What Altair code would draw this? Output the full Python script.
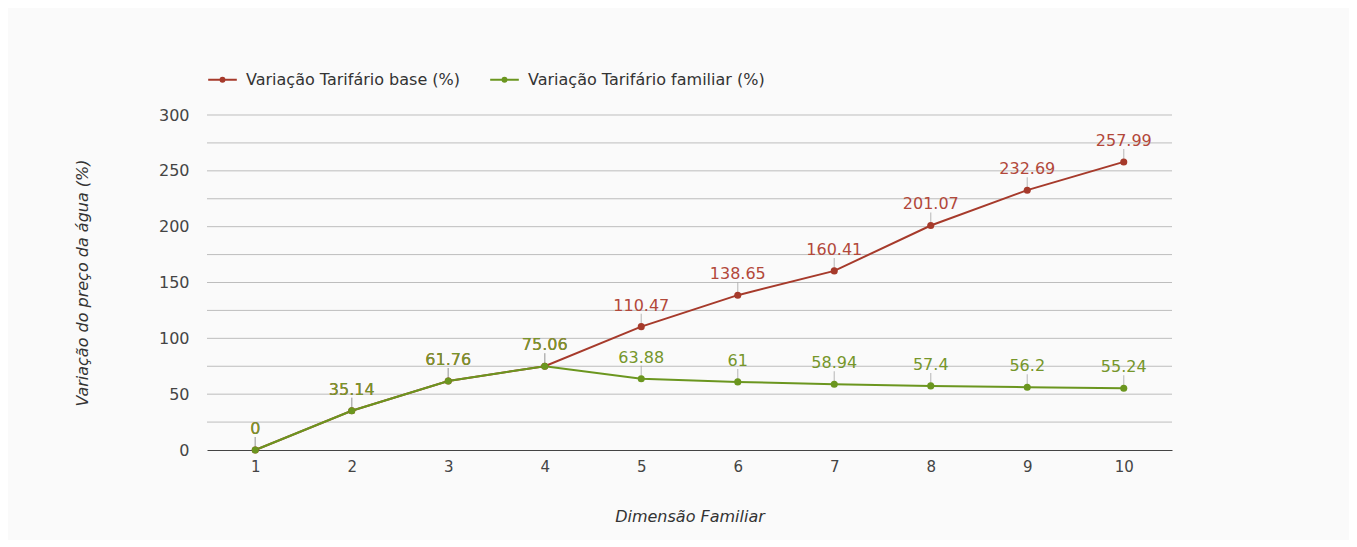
import altair as alt
import pandas as pd

dims = [1, 2, 3, 4, 5, 6, 7, 8, 9, 10]
base_vals = [0, 35.14, 61.76, 75.06, 110.47, 138.65, 160.41, 201.07, 232.69, 257.99]
fam_vals = [0, 35.14, 61.76, 75.06, 63.88, 61, 58.94, 57.4, 56.2, 55.24]
s_base = "Variação Tarifário base (%)"
s_fam = "Variação Tarifário familiar (%)"
grid_vals = [25, 50, 75, 100, 125, 150, 175, 200, 225, 250, 275, 300]

rows = []
for d, v in zip(dims, base_vals):
    rows.append({"dim": d, "val": v, "serie": s_base, "lbl": f"{v:g}"})
for d, v in zip(dims, fam_vals):
    rows.append({"dim": d, "val": v, "serie": s_fam, "lbl": f"{v:g}"})
df = pd.DataFrame(rows)
grid_df = pd.DataFrame({"val": grid_vals})

c_base = "#a63a2b"
c_fam = "#6b961f"
t_base = "#b2483a"
t_fam = "#76962a"
FONT = "DejaVu Sans"

x_enc = alt.X("dim:O", scale=alt.Scale(type="point", padding=0.5),
              axis=alt.Axis(title="Dimensão Familiar", labelAngle=0, ticks=False,
                            domain=True, domainColor="#444", labelFont=FONT,
                            labelFontSize=15, labelColor="#444", labelPadding=9,
                            titleFont=FONT, titleFontSize=16, titleFontStyle="italic",
                            titleFontWeight="normal", titleColor="#333", titlePadding=34))
y_scale = alt.Scale(domain=[0, 300], nice=False)
y_enc = alt.Y("val:Q", scale=y_scale,
              axis=alt.Axis(title="Variação do preço da água (%)",
                            values=list(range(0, 301, 50)),
                            ticks=False, domain=False, grid=False,
                            labelFont=FONT, labelFontSize=16, labelColor="#444", labelPadding=18,
                            titleFont=FONT, titleFontSize=16, titleFontStyle="italic",
                            titleFontWeight="normal", titleColor="#333", titlePadding=68))

color = alt.Color("serie:N", scale=alt.Scale(domain=[s_base, s_fam], range=[c_base, c_fam]),
                  legend=alt.Legend(title=None, orient="none", legendX=0, legendY=-51,
                                    direction="horizontal",
                                    symbolType="M-1,0L1,0M0.13,0A0.13,0.13,0,1,1,-0.13,0A0.13,0.13,0,1,1,0.13,0Z",
                                    symbolSize=820, symbolStrokeWidth=2.2,
                                    labelFont=FONT, labelFontSize=16, labelColor="#333",
                                    labelLimit=0, columnPadding=24, symbolOffset=0, labelOffset=8))

grid = alt.Chart(grid_df).mark_rule(color="#bdbdbd", strokeWidth=1).encode(
    y=alt.Y("val:Q", scale=y_scale))

base = alt.Chart(df)
lines = base.mark_line(strokeWidth=2).encode(x=x_enc, y=y_enc, color=color, detail="serie:N")
pts = base.mark_point(filled=True, size=50, opacity=1).encode(
    x="dim:O", y="val:Q",
    color=alt.Color("serie:N", legend=None))
leaders = base.mark_tick(orient="vertical", size=10, thickness=1.2, color="#a8a8a8", yOffset=-8).encode(
    x="dim:O", y="val:Q")
texts = base.mark_text(dy=-21, fontSize=16, font=FONT, baseline="middle").encode(
    x="dim:O", y="val:Q", text="lbl:N",
    color=alt.condition(alt.datum.serie == s_base, alt.value(t_base), alt.value(t_fam)))

chart = alt.layer(grid, lines, leaders, pts, texts).properties(
    width=965, height=335,
    background="#fafafa",
    padding={"left": 199, "top": 107, "right": 177, "bottom": 90},
    autosize=alt.AutoSizeParams(type="none"),
).configure_view(stroke=None)

chart.save("out.html", embed_options={"renderer": "svg", "actions": False})
